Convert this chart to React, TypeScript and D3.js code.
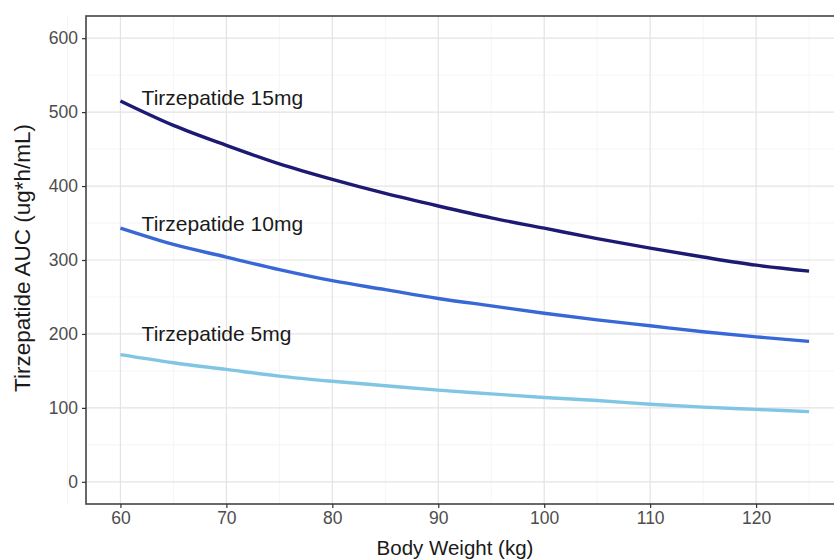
import React, { useEffect, useRef } from 'react'
import * as d3 from 'd3'

// body weight (kg) and AUC (ug*h/mL)
const weights = [60, 65, 70, 75, 80, 85, 90, 95, 100, 105, 110, 115, 120, 125]
const auc15 = [515, 482, 455, 430, 409, 390, 373, 357, 343, 329, 316, 304, 293, 285]
const auc10 = [343, 321, 304, 287, 272, 260, 248, 238, 228, 219, 211, 203, 196, 190]
const auc5 = [172, 161, 152, 143, 136, 130, 124, 119, 114, 110, 105, 101, 98, 95]

const seriesNames = ['Tirzepatide 15mg', 'Tirzepatide 10mg', 'Tirzepatide 5mg']
const seriesColors = ['#1c1a72', '#3868d6', '#80c6e4']
const labelX = 62
const labelY = [520, 350, 200]
const xTicks = [60, 70, 80, 90, 100, 110, 120]
const yTicks = [0, 100, 200, 300, 400, 500, 600]

export default function App() {
  const ref = useRef<SVGSVGElement>(null)

  useEffect(() => {
    const width = 834
    const height = 560
    const left = 86, top = 16, bottom = 504, right = 843.5

    const svg = d3.select(ref.current)
    svg.selectAll('*').remove()

    const x = d3.scaleLinear().domain([56.75, 128.25]).range([left, right])
    const y = d3.scaleLinear().domain([-30, 630]).range([bottom, top])

    const font = 'Liberation Sans, Arial, sans-serif'

    svg.append('rect')
      .attr('x', left).attr('y', top)
      .attr('width', right - left).attr('height', bottom - top)
      .attr('fill', 'white')

    // minor grid
    const xMinor = d3.range(55, 130, 10)
    const yMinor = d3.range(50, 650, 100)
    svg.append('g').selectAll('line').data(xMinor).enter().append('line')
      .attr('x1', d => x(d)).attr('x2', d => x(d))
      .attr('y1', top).attr('y2', bottom)
      .attr('stroke', '#f2f2f2').attr('stroke-width', 0.8)
    svg.append('g').selectAll('line').data(yMinor).enter().append('line')
      .attr('y1', d => y(d)).attr('y2', d => y(d))
      .attr('x1', left).attr('x2', right)
      .attr('stroke', '#f2f2f2').attr('stroke-width', 0.8)

    // major grid
    svg.append('g').selectAll('line').data(xTicks).enter().append('line')
      .attr('x1', d => x(d)).attr('x2', d => x(d))
      .attr('y1', top).attr('y2', bottom)
      .attr('stroke', '#e3e3e3').attr('stroke-width', 1.2)
    svg.append('g').selectAll('line').data(yTicks).enter().append('line')
      .attr('y1', d => y(d)).attr('y2', d => y(d))
      .attr('x1', left).attr('x2', right)
      .attr('stroke', '#e3e3e3').attr('stroke-width', 1.2)

    // lines
    const allSeries = [auc15, auc10, auc5]
    const line = d3.line<number>()
      .x((_, i) => x(weights[i]))
      .y(d => y(d))
      .curve(d3.curveMonotoneX)

    allSeries.forEach((vals, k) => {
      svg.append('path')
        .datum(vals)
        .attr('d', line)
        .attr('fill', 'none')
        .attr('stroke', seriesColors[k])
        .attr('stroke-width', 3.4)
    })

    // series labels
    const labelSize = 21
    seriesNames.forEach((name, k) => {
      svg.append('text')
        .attr('x', x(labelX))
        .attr('y', y(labelY[k]) + labelSize * 0.36)
        .attr('font-family', font)
        .attr('font-size', labelSize)
        .attr('fill', '#1a1a1a')
        .text(name)
    })

    // panel border
    svg.append('rect')
      .attr('x', left).attr('y', top)
      .attr('width', right - left).attr('height', bottom - top)
      .attr('fill', 'none').attr('stroke', '#444').attr('stroke-width', 1.6)

    // axes
    const xAxis = svg.append('g')
      .attr('transform', `translate(0,${bottom})`)
      .call(d3.axisBottom(x).tickValues(xTicks).tickSize(4).tickPadding(4))
    const yAxis = svg.append('g')
      .attr('transform', `translate(${left},0)`)
      .call(d3.axisLeft(y).tickValues(yTicks).tickSize(4).tickPadding(4))
    ;[xAxis, yAxis].forEach(g => {
      g.select('.domain').remove()
      g.selectAll('line').attr('stroke', '#333').attr('stroke-width', 1.2)
      g.selectAll('text')
        .attr('font-family', font)
        .attr('font-size', 17.5)
        .attr('fill', '#4d4d4d')
    })

    svg.append('text')
      .attr('x', 455)
      .attr('y', 555)
      .attr('text-anchor', 'middle')
      .attr('font-family', font)
      .attr('font-size', 20.5)
      .attr('fill', '#1a1a1a')
      .text('Body Weight (kg)')

    svg.append('text')
      .attr('transform', `translate(30,258) rotate(-90)`)
      .attr('text-anchor', 'middle')
      .attr('font-family', font)
      .attr('font-size', 22.5)
      .attr('fill', '#1a1a1a')
      .text('Tirzepatide AUC (ug*h/mL)')

    svg.attr('width', width).attr('height', height)
  }, [])

  return (
    <svg
      ref={ref}
      width={834}
      height={560}
      style={{ position: 'absolute', left: 0, top: 0, background: 'white' }}
    />
  )
}
